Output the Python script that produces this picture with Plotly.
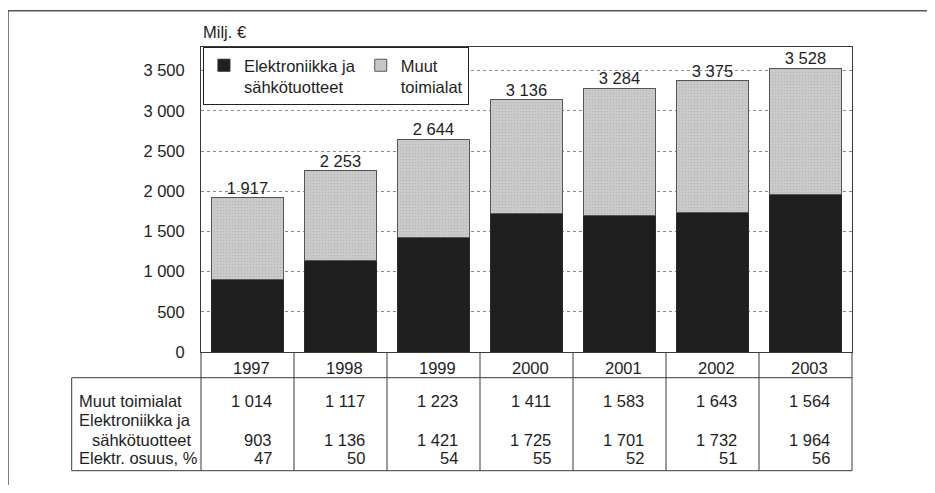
import plotly.graph_objects as go

years = ["1997", "1998", "1999", "2000", "2001", "2002", "2003"]
elektroniikka = [903, 1136, 1421, 1725, 1701, 1732, 1964]
muut = [1014, 1117, 1223, 1411, 1583, 1643, 1564]
totals = [1917, 2253, 2644, 3136, 3284, 3375, 3528]
osuus = [47, 50, 54, 55, 52, 51, 56]
ytick_vals = [0, 500, 1000, 1500, 2000, 2500, 3000, 3500]
row_labels = ["Muut toimialat", "Elektroniikka ja", "sähkötuotteet", "Elektr. osuus, %"]


def fmt(v):
    return f"{v:,}".replace(",", " ")


FONT = "Liberation Sans, Arial, sans-serif"
FS = 16.5
TXT = "#1e1e1e"
LINE = "#3a3a3a"

# page body margin of the browser shifts the figure by 8px; compensate
OFF = 8
FIG_W, FIG_H = 935 - 2 * OFF, 493 - 2 * OFF

fig = go.Figure()
fig.add_trace(go.Bar(
    x=years, y=elektroniikka, name="Elektroniikka ja<br>sähkötuotteet",
    marker=dict(color="#1f1f1f", line=dict(color="#2a2a2a", width=1)),
    width=0.77,
))
fig.add_trace(go.Bar(
    x=years, y=muut, name="Muut<br>toimialat",
    marker=dict(color="#c6c6c6", line=dict(color="#555555", width=1),
                pattern=dict(shape=".", size=3, solidity=0.25,
                             fgcolor="#a4a4a4", bgcolor="#cbcbcb")),
    width=0.77,
))
fig.add_trace(go.Scatter(
    x=years, y=totals, mode="text", text=[fmt(v) for v in totals],
    textposition="top center", textfont=dict(family=FONT, size=FS, color=TXT),
    showlegend=False, cliponaxis=False, hoverinfo="skip",
))

# plot area geometry in reference-page pixels
PL, PR, PT, PB = 201, 852, 47, 352
W, H = PR - PL, PB - PT


def py(ypx):
    return (PB - ypx) / H


def px(xpx):
    return (xpx - PL) / W


ann = []
shapes = []
n = len(years)
row_year_y = py(368)
row_y = [py(401), py(420), py(440), py(457.5)]
table_top = py(377.7)
table_bot = py(470.7)
table_left = px(71.7)

for i, yr in enumerate(years):
    ann.append(dict(x=i + 0.5, xref="x", y=row_year_y, yref="paper", text=yr,
                    xanchor="right", yanchor="middle", xshift=-22, showarrow=False))
    ann.append(dict(x=i + 0.5, xref="x", y=row_y[0], yref="paper", text=fmt(muut[i]),
                    xanchor="right", yanchor="middle", xshift=-20, showarrow=False))
    ann.append(dict(x=i + 0.5, xref="x", y=row_y[2], yref="paper", text=fmt(elektroniikka[i]),
                    xanchor="right", yanchor="middle", xshift=-20, showarrow=False))
    ann.append(dict(x=i + 0.5, xref="x", y=row_y[3], yref="paper", text=str(osuus[i]),
                    xanchor="right", yanchor="middle", xshift=-20, showarrow=False))

label_x = [px(77), px(77), px(90), px(77)]
for lbl, lx, ly in zip(row_labels, label_x, row_y):
    ann.append(dict(x=lx, xref="paper", y=ly, yref="paper", text=lbl,
                    xanchor="left", yanchor="middle", showarrow=False))

ann.append(dict(x=0, xref="paper", y=py(32), yref="paper", text="Milj. €",
                xanchor="left", yanchor="middle", showarrow=False))

# table lines
ln = dict(color=LINE, width=1)
shapes.append(dict(type="line", xref="paper", yref="paper", x0=table_left, x1=1,
                   y0=table_top, y1=table_top, line=ln))
shapes.append(dict(type="line", xref="paper", yref="paper", x0=table_left, x1=1,
                   y0=table_bot, y1=table_bot, line=ln))
shapes.append(dict(type="line", xref="paper", yref="paper", x0=table_left, x1=table_left,
                   y0=table_top, y1=table_bot, line=ln))
for xb in [0, 1]:
    shapes.append(dict(type="line", xref="paper", yref="paper", x0=xb, x1=xb,
                       y0=0, y1=table_bot, line=ln))
for i in range(1, n):
    xb = i / n
    shapes.append(dict(type="line", xref="paper", yref="paper", x0=xb, x1=xb,
                       y0=0, y1=table_bot, line=ln))

# outer frame (top and left)
fr = dict(color="#555555", width=1.5)
shapes.append(dict(type="line", xref="paper", yref="paper", x0=px(8), x1=px(935),
                   y0=py(10.7), y1=py(10.7), line=fr))
shapes.append(dict(type="line", xref="paper", yref="paper", x0=px(8), x1=px(8),
                   y0=py(10.7), y1=py(495), line=fr))

fig.update_layout(
    width=FIG_W, height=FIG_H,
    margin=dict(l=PL - OFF, r=935 - OFF - PR, t=PT - OFF, b=493 - OFF - PB, pad=0),
    barmode="stack",
    bargap=0.23,
    paper_bgcolor="white", plot_bgcolor="white",
    font=dict(family=FONT, size=FS, color=TXT),
    showlegend=True,
    legend=dict(orientation="h", x=0.003, y=1, xanchor="left", yanchor="top",
                bgcolor="white", bordercolor="#222222", borderwidth=1,
                valign="top", font=dict(family=FONT, size=FS, color=TXT),
                itemwidth=30, traceorder="normal"),
    xaxis=dict(type="category", range=[-0.5, n - 0.5], showticklabels=False,
               showline=True, linecolor=LINE, linewidth=1, mirror=True,
               showgrid=False, zeroline=False, ticks=""),
    yaxis=dict(range=[0, 3795], tickvals=ytick_vals,
               ticktext=[fmt(v) for v in ytick_vals],
               showline=True, linecolor=LINE, linewidth=1, mirror=True,
               showgrid=True, gridcolor="#8a8a8a", griddash="dot", gridwidth=1,
               zeroline=False, ticks="", ticklabelstandoff=12),
    annotations=ann,
    shapes=shapes,
)

fig.write_html("out.html")
